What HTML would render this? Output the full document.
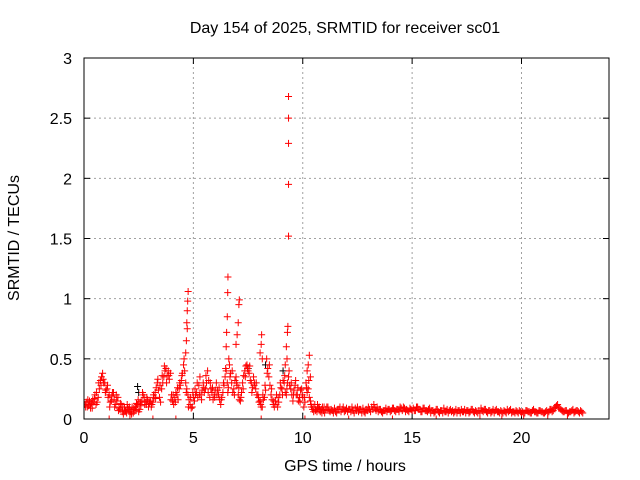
<!DOCTYPE html>
<html><head><meta charset="utf-8"><style>
html,body{margin:0;padding:0;background:#fff;}
svg{display:block;font-family:"Liberation Sans",sans-serif;}
</style></head><body>
<svg id="chart" width="640" height="480" viewBox="0 0 640 480" xmlns="http://www.w3.org/2000/svg">
<rect x="0" y="0" width="640" height="480" fill="#fff"/>
<text x="345" y="33" font-size="16" text-anchor="middle">Day 154 of 2025, SRMTID for receiver sc01</text>
<text x="345" y="471" font-size="16" text-anchor="middle">GPS time / hours</text>
<text x="0" y="0" font-size="16" text-anchor="middle" transform="translate(19,238) rotate(-90)">SRMTID / TECUs</text>
<defs><clipPath id="clip"><rect x="84" y="58" width="525" height="361"/></clipPath></defs>
<g id="grid"></g>
<g id="axes"></g>
<g id="marks" clip-path="url(#clip)"></g>
<rect x="84" y="58" width="525" height="361" fill="none" stroke="#000" stroke-width="1"/>
</svg>
<script>
const xTicks=[0,5,10,15,20];
const yTicks=[0,0.5,1,1.5,2,2.5,3];
const yTickLabels=["0","0.5","1","1.5","2","2.5","3"];
const baseStart=0.05;
const baseStep=0.1;
const baseValues=[
0.12,0.10,0.15,0.13,0.14,0.12,0.18,0.32,0.38,0.30,
0.25,0.20,0.15,0.22,0.12,0.18,0.08,0.06,0.10,0.05,
0.08,0.06,0.05,0.10,0.12,0.08,0.15,0.18,0.12,0.10,
0.15,0.14,0.22,0.30,0.18,0.25,0.35,0.42,0.40,0.38,
0.15,0.18,0.20,0.25,0.32,0.45,0.30,0.20,0.12,0.10,
0.15,0.22,0.28,0.20,0.30,0.25,0.40,0.18,0.22,0.20,
0.30,0.20,0.12,0.22,0.35,0.30,0.45,0.30,0.25,0.35,
0.20,0.15,0.30,0.40,0.45,0.38,0.30,0.35,0.25,0.20,
0.15,0.10,0.18,0.50,0.35,0.20,0.12,0.15,0.10,0.20,
0.25,0.30,0.20,0.35,0.25,0.15,0.28,0.20,0.18,0.25,
0.10,0.30,0.25,0.15,0.08,0.12,0.06,0.10,0.08,0.07,
0.08,0.10,0.06,0.07,0.09,0.05,0.08,0.06,0.10,0.07,
0.06,0.08,0.10,0.05,0.07,0.06,0.08,0.09,0.05,0.07,
0.08,0.10,0.12,0.07,0.06,0.08,0.05,0.07,0.06,0.08,
0.07,0.09,0.06,0.08,0.10,0.07,0.09,0.08,0.06,0.08,
0.09,0.07,0.10,0.08,0.06,0.09,0.07,0.08,0.05,0.07,
0.06,0.08,0.05,0.07,0.09,0.06,0.05,0.08,0.07,0.06,
0.05,0.07,0.08,0.06,0.05,0.07,0.06,0.08,0.05,0.06,
0.07,0.09,0.06,0.08,0.05,0.07,0.06,0.05,0.08,0.06,
0.07,0.05,0.06,0.08,0.07,0.05,0.06,0.07,0.05,0.06,
0.06,0.05,0.07,0.06,0.05,0.08,0.06,0.05,0.07,0.06,
0.05,0.07,0.06,0.08,0.07,0.10,0.12,0.09,0.07,0.06,
0.07,0.05,0.06,0.08,0.06,0.07,0.05,0.06];
const baseValues2=[
0.14,0.11,0.09,0.16,0.20,0.14,0.25,0.35,0.30,0.24,
0.18,0.14,0.22,0.10,0.15,0.09,0.12,0.04,0.07,0.09,
0.05,0.10,0.08,0.13,0.06,0.11,0.20,0.14,0.16,0.13,
0.12,0.18,0.26,0.24,0.14,0.30,0.40,0.36,0.33,0.20,
0.12,0.22,0.16,0.28,0.38,0.40,0.25,0.16,0.09,0.18,
0.20,0.18,0.35,0.24,0.22,0.30,0.32,0.25,0.16,0.24,
0.24,0.16,0.18,0.28,0.40,0.26,0.38,0.22,0.32,0.28,
0.16,0.22,0.36,0.44,0.40,0.32,0.26,0.30,0.20,0.14,
0.10,0.16,0.24,0.42,0.28,0.16,0.10,0.20,0.14,0.26,
0.32,0.22,0.30,0.28,0.20,0.24,0.20,0.15,0.24,0.18,
0.14,0.22,0.18,0.10,0.06,0.08,0.09,0.06,0.10,0.05,
0.10,0.07,0.08,0.05,0.06,0.08,0.10,0.08,0.06,0.09,
0.08,0.06,0.07,0.09,0.10,0.08,0.05,0.06,0.08,0.10,
0.06,0.08,0.09,0.10,0.08,0.06,0.07,0.09,0.08,0.06,
0.09,0.07,0.08,0.06,0.09,0.10,0.06,0.07,0.09,0.07,
0.07,0.10,0.08,0.06,0.09,0.07,0.06,0.09,0.07,0.05,
0.08,0.06,0.07,0.05,0.06,0.08,0.07,0.06,0.05,0.08,
0.07,0.05,0.06,0.08,0.07,0.05,0.08,0.06,0.07,0.05,
0.05,0.07,0.08,0.06,0.07,0.05,0.08,0.07,0.06,0.05,
0.06,0.07,0.05,0.06,0.08,0.06,0.05,0.06,0.07,0.05,
0.05,0.07,0.06,0.05,0.07,0.06,0.05,0.07,0.06,0.05,
0.06,0.05,0.08,0.06,0.09,0.11,0.09,0.08,0.06,0.07,
0.05,0.06,0.07,0.05,0.07,0.06,0.07,0.05];
const baseValues3=[
0.10,0.16,0.12,0.09,0.17,0.22,0.30,0.28,0.33,0.22,
0.28,0.10,0.19,0.16,0.20,0.07,0.13,0.10,0.06,0.12,
0.10,0.04,0.09,0.07,0.16,0.14,0.22,0.12,0.18,0.15,
0.10,0.20,0.17,0.33,0.28,0.36,0.44,0.30,0.36,0.16,
0.20,0.14,0.26,0.30,0.36,0.50,0.22,0.10,0.18,0.22,
0.25,0.30,0.20,0.16,0.26,0.36,0.22,0.30,0.26,0.18,
0.20,0.26,0.16,0.30,0.42,0.22,0.35,0.40,0.20,0.30,
0.26,0.18,0.25,0.35,0.42,0.44,0.22,0.28,0.30,0.18,
0.12,0.20,0.28,0.38,0.45,0.25,0.15,0.12,0.18,0.30,
0.20,0.36,0.25,0.40,0.30,0.20,0.32,0.26,0.14,0.20,
0.18,0.26,0.32,0.12,0.10,0.07,0.12,0.08,0.05,0.10];
const spikeTimes=[4.65,4.68,4.70,4.72,4.74,4.76,4.72,6.50,6.52,6.55,6.57,6.58,6.62,6.95,7.00,7.05,7.08,7.10,8.05,8.10,8.12,8.15,9.20,9.25,9.30,9.32,9.35,9.35,9.35,9.35,9.35,9.28,10.20,10.25,10.30,10.35,
1.15,2.10,3.15,4.20,8.10,10.10,12.10,14.10,16.10,18.10,19.10,20.10,21.20,22.10];
const spikeValues=[0.55,0.65,0.80,0.90,0.98,1.06,0.75,0.60,0.72,0.85,1.05,1.18,0.50,0.62,0.70,0.80,0.95,0.99,0.55,0.62,0.70,0.50,0.45,0.60,0.72,0.77,1.52,1.95,2.29,2.50,2.68,0.50,0.40,0.45,0.53,0.35,
0,0,0,0,0,0,0,0,0,0,0,0,0,0];
const blackTimes=[2.45,2.50,7.50,8.30,9.10];
const blackValues=[0.27,0.22,0.42,0.45,0.40];

const X0=84,X1=609,Y0=419,Y1=58;
function sx(t){return X0+(t-0)/(24-0)*(X1-X0);}
function sy(v){return Y0-(v-0)/(3-0)*(Y0-Y1);}
const NS="http://www.w3.org/2000/svg";
const grid=document.getElementById('grid'),axes=document.getElementById('axes'),marks=document.getElementById('marks');
function mk(tag,attrs,parent){const e=document.createElementNS(NS,tag);for(const k in attrs)e.setAttribute(k,attrs[k]);parent.appendChild(e);return e;}

xTicks.forEach((t,i)=>{
  const x=sx(t);
  if(t>0){const g=mk('line',{x1:x,y1:Y0,x2:x,y2:Y1,stroke:'#a0a0a0','stroke-dasharray':'2,3'},grid);
  
  }
  const a=mk('line',{x1:x,y1:Y0,x2:x,y2:Y0-6,stroke:'#000'},axes);
  
  
  const b=mk('line',{x1:x,y1:Y1,x2:x,y2:Y1+6,stroke:'#000'},axes);
  
  
  const tx=mk('text',{x:x,y:443,'font-size':16,'text-anchor':'middle'},axes);
  tx.textContent=String(t);
  
  
});
yTicks.forEach((v,i)=>{
  const y=sy(v);
  if(v>0&&v<3){const g=mk('line',{x1:X0,y1:y,x2:X1,y2:y,stroke:'#a0a0a0','stroke-dasharray':'2,3'},grid);
  
  }
  const a=mk('line',{x1:X0,y1:y,x2:X0+6,y2:y,stroke:'#000'},axes);
  
  
  const b=mk('line',{x1:X1,y1:y,x2:X1-6,y2:y,stroke:'#000'},axes);
  
  
  const tx=mk('text',{x:72,y:y+6,'font-size':16,'text-anchor':'end'},axes);
  tx.textContent=yTickLabels[i];
  
  
});
function plus(t,v,color){
  const x=sx(t),y=sy(v);
  const p=mk('path',{d:`M${x-3.5},${y}H${x+3.5}M${x},${y-3.5}V${y+3.5}`,stroke:color,'stroke-width':1,fill:'none'},marks);
  
  
}
blackValues.forEach((v,i)=>plus(blackTimes[i],v,'#000'));
baseValues.forEach((v,i)=>plus(baseStart+i*baseStep,v,'#ff0000'));
baseValues2.forEach((v,i)=>plus(baseStart+0.05+i*baseStep,v,'#ff0000'));
baseValues3.forEach((v,i)=>plus(baseStart+0.025+i*baseStep,v,'#ff0000'));
spikeValues.forEach((v,i)=>plus(spikeTimes[i],v,'#ff0000'));
</script>
</body></html>
